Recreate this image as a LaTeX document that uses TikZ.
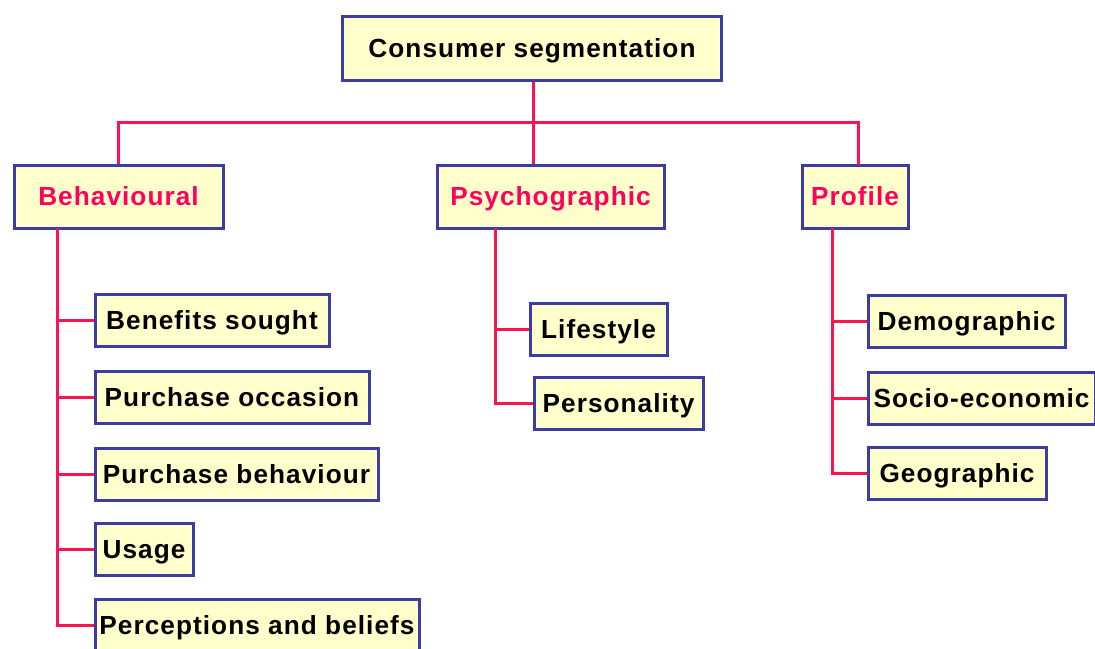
\documentclass[tikz,border=0pt]{standalone}
\usepackage{fontspec}
\setmainfont{Liberation Sans}[LetterSpace=4]
\usepackage{tikz}

\definecolor{boxfill}{RGB}{255,255,204}
\definecolor{boxline}{RGB}{60,60,165}
\definecolor{link}{RGB}{250,20,80}
\definecolor{headtext}{RGB}{255,0,95}

\begin{document}
\begin{tikzpicture}[x=1pt, y=-1pt, very thick,
	main/.style = {draw=boxline, fill=boxfill, line width=3pt, inner sep=0pt,
		font=\fontsize{26.2}{31}\selectfont\bfseries, minimum height=52pt,
		text height=19pt, text depth=1pt},
	head/.style = {main, text=headtext, minimum height=63pt},
	wire/.style = {draw=link, line width=3pt}]
	\useasboundingbox (0,0) rectangle (1095,648);

	\node[main, minimum width=379pt, minimum height=64pt] (top) at (532,48) {Consumer segmentation};

	\node[head, minimum width=209pt] (beh) at (118.5,196.5) {Behavioural};
	\node[head, minimum width=227pt] (psy) at (550.5,196.5) {Psychographic};
	\node[head, minimum width=106pt] (prof) at (855,196.5) {Profile};

	\node[main, minimum width=234pt] (b1) at (212,320) {Benefits sought};
	\node[main, minimum width=274pt] (b2) at (232,397.5) {Purchase occasion};
	\node[main, minimum width=283pt] (b3) at (236.5,474) {Purchase behaviour};
	\node[main, minimum width=98pt] (b4) at (144,549.5) {Usage};
	\node[main, minimum width=324pt] (b5) at (257,625) {Perceptions and beliefs};

	\node[main, minimum width=137pt] (p1) at (598.5,329.5) {Lifestyle};
	\node[main, minimum width=169pt] (p2) at (618.5,403) {Personality};

	\node[main, minimum width=197pt] (r1) at (966.5,321) {Demographic};
	\node[main, minimum width=227pt] (r2) at (981.5,398) {Socio-economic};
	\node[main, minimum width=178pt] (r3) at (957,473.5) {Geographic};

	\coordinate (bus) at (533,122);
	\coordinate (bt) at (57,228);
	\coordinate (pt) at (495,228);
	\coordinate (rt) at (832,228);

	\draw[wire] (top.south -| bus) -- (bus);
	\draw[wire] (beh.north) |- (bus) -| (858,165);
	\draw[wire] (bus) -- (bus |- psy.north);

	\draw[wire] (bt) |- (b5.west);
	\foreach \n in {b1,b2,b3,b4}
		\draw[wire] (bt |- \n.west) -- (\n.west);

	\draw[wire] (pt) |- (p2.west);
	\draw[wire] (pt |- p1.west) -- (p1.west);

	\draw[wire] (rt) |- (r3.west);
	\foreach \n in {r1,r2}
		\draw[wire] (rt |- \n.west) -- (\n.west);
\end{tikzpicture}
\end{document}
